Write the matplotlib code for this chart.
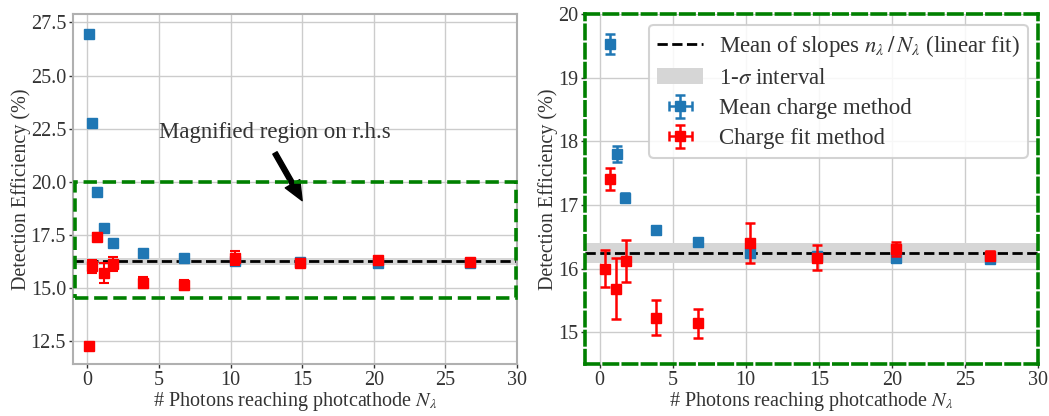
import matplotlib
matplotlib.use("Agg")
import matplotlib.pyplot as plt
from matplotlib.patches import Rectangle

plt.rcParams['font.family'] = ['Liberation Serif', 'DejaVu Serif']
plt.rcParams['mathtext.fontset'] = 'stix'

# Number of photons reaching the photocathode
n_photons = [0.14, 0.35, 0.69, 1.17, 1.77, 3.87, 6.73, 10.28, 14.86, 20.3, 26.7]

# Mean charge method
mean_eff = [26.97, 22.74, 19.53, 17.80, 17.11, 16.61, 16.42, 16.25, 16.20, 16.16, 16.15]
mean_err = [0.15, 0.15, 0.16, 0.13, 0.07, 0.06, 0.05, 0.05, 0.05, 0.05, 0.04]

# Charge fit method
fit_x = [0.14, 0.34, 0.69, 1.15, 1.79, 3.87, 6.73, 10.28, 14.86, 20.3, 26.7]
fit_eff = [12.26, 16.00, 17.41, 15.68, 16.12, 15.23, 15.14, 16.40, 16.17, 16.30, 16.20]
fit_err = [0.10, 0.29, 0.17, 0.48, 0.33, 0.27, 0.23, 0.32, 0.20, 0.11, 0.07]

x_err = [0.02] * len(n_photons)

# Mean of slopes and its 1-sigma band
slope_mean = 16.24
slope_lo, slope_hi = 16.08, 16.40

TEXT = '#333333'
GRID = '#cccccc'

fig = plt.figure(figsize=(10.49, 4.16), dpi=100)
ax1 = fig.add_axes([73 / 1049, 52 / 416, 444 / 1049, 350 / 416])
ax2 = fig.add_axes([585 / 1049, 52 / 416, 453 / 1049, 350 / 416])


def draw(ax, lw_err):
    ax.axhspan(slope_lo, slope_hi, color='#d6d6d6', lw=0, zorder=1,
               label=r'1-$\sigma$ interval')
    ax.axhline(slope_mean, color='black', ls='--', lw=2, zorder=2,
               label=r'Mean of slopes $n_\lambda\,/\,N_\lambda$ (linear fit)')
    ax.errorbar(n_photons, mean_eff, yerr=mean_err, xerr=x_err, fmt='s',
                color='#1f77b4', ms=6.5, elinewidth=lw_err, capsize=3.3,
                capthick=lw_err, zorder=3, label='Mean charge method')
    ax.errorbar(fit_x, fit_eff, yerr=fit_err, xerr=x_err, fmt='s',
                color='red', ms=6.5, elinewidth=lw_err, capsize=3.3,
                capthick=lw_err, zorder=4, label='Charge fit method')
    ax.set_xlim(-1, 30)
    ax.set_xticks(range(0, 31, 5))
    ax.grid(True, color=GRID, lw=1)
    ax.set_axisbelow(True)
    ax.set_xlabel(r'# Photons reaching photcathode $N_\lambda$', fontsize=14.5,
                  color=TEXT, labelpad=0)
    ax.set_ylabel('Detection Efficiency (%)', fontsize=14.5, color=TEXT,
                  labelpad=0)
    ax.tick_params(labelsize=14.5, colors=TEXT, length=3, width=1, pad=2)


# Left panel: full range
draw(ax1, 1.5)
ax1.set_ylim(11.4, 27.9)
ax1.set_yticks([12.5, 15.0, 17.5, 20.0, 22.5, 25.0, 27.5])
ax1.set_yticklabels(['12.5', '15.0', '17.5', '20.0', '22.5', '25.0', '27.5'])
for s in ax1.spines.values():
    s.set_color('#b0b0b0')
    s.set_linewidth(1.5)
ax1.add_patch(Rectangle((-0.85, 14.5), 30.8, 5.5, fill=False, ec='green',
                        ls='--', lw=2.6, zorder=5, clip_on=False))
ax1.text(5.0, 22.3, 'Magnified region on r.h.s', fontsize=16.5, color=TEXT,
         va='center', ha='left')
ax1.annotate('', xy=(15.0, 19.1), xytext=(13.1, 21.35),
             arrowprops=dict(facecolor='black', edgecolor='black', width=3.5,
                             headwidth=12, headlength=14, shrink=0))

# Right panel: magnified region
draw(ax2, 1.8)
ax2.set_ylim(14.5, 20)
ax2.set_yticks([15, 16, 17, 18, 19, 20])
for s in ax2.spines.values():
    s.set_color('green')
    s.set_linewidth(2.6)
    s.set_linestyle('--')

handles, labels = ax2.get_legend_handles_labels()
order = [1, 0, 2, 3]
leg = ax2.legend([handles[i] for i in order], [labels[i] for i in order],
                 loc='upper right', fontsize=16.5, frameon=True, fancybox=True,
                 edgecolor='#cccccc', framealpha=0.85, handlelength=2.0,
                 handletextpad=0.7, borderpad=0.35, labelspacing=0.4,
                 borderaxespad=0, bbox_to_anchor=(0.978, 0.969))
leg.get_frame().set_linewidth(1.5)
for t in leg.get_texts():
    t.set_color(TEXT)

fig.savefig('out.png', dpi=100)
